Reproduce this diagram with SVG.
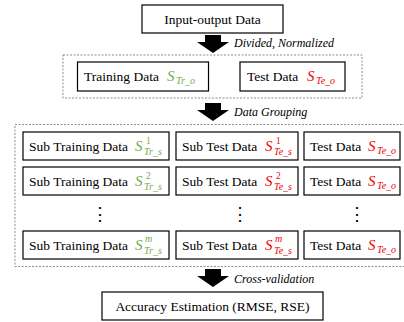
<svg xmlns="http://www.w3.org/2000/svg" width="404" height="322" viewBox="0 0 404 322" font-family="'Liberation Serif', 'DejaVu Serif', serif">
<style>
text{font-family:"Liberation Serif","DejaVu Serif",serif}
.box{fill:#fff;stroke:#000;stroke-width:1.2}
.grp{fill:none;stroke:#808080;stroke-width:0.9;stroke-dasharray:2 1.5}
.t{font-size:13.5px;fill:#000}
.c{text-anchor:middle}
.lbl{font-style:italic;font-size:12px;fill:#000}
.S{font-style:italic;font-size:15px}
.sb{font-style:italic;font-size:10px}
.sp{font-size:9.5px}
.g{fill:#70AD47}
.r{fill:#F00000}
.dots{font-size:18px;fill:#000;text-anchor:middle}
</style>
<defs>
<!-- block arrow pointing down, origin at top centre -->
<path id="blk" d="M-8,0 H8 V7 H16 L0,18 L-16,7 H-8 Z" fill="#000"/>
</defs>

<!-- connectors -->
<g id="connectors">
<use href="#blk" x="213" y="35"/>
<use href="#blk" x="213" y="103"/>
<use href="#blk" x="213" y="269"/>
<text class="lbl" x="234" y="47">Divided, Normalized</text>
<text class="lbl" x="234" y="116">Data Grouping</text>
<text class="lbl" x="234" y="283">Cross-validation</text>
</g>

<g id="input">
<rect class="box" x="142" y="5" width="141" height="28"/>
<text class="t c" x="212.5" y="24">Input-output Data</text>
</g>

<g id="split">
<rect class="grp" x="63" y="55" width="299" height="43"/>
<g id="training">
<rect class="box" x="77.5" y="62" width="131" height="29"/>
<text class="t" x="84" y="81">Training Data</text>
<text class="S g" x="167" y="81">S</text>
<text class="sb g" x="176" y="84">Tr_o</text>
</g>
<g id="test">
<rect class="box" x="240" y="62" width="105" height="29"/>
<text class="t" x="247" y="81">Test Data</text>
<text class="S r" x="307" y="81">S</text>
<text class="sb r" x="316" y="84">Te_o</text>
</g>
</g>

<g id="groups">
<rect class="grp" x="15" y="124.5" width="390" height="142"/>

<!-- row 1 -->
<g id="subtrain1">
<rect class="box" x="23" y="132" width="146" height="28"/>
<text class="t" x="29" y="151">Sub Training Data</text>
<text class="S g" x="135" y="151">S</text>
<text class="sp g" x="146" y="144">1</text>
<text class="sb g" x="144" y="155">Tr_s</text>
</g>
<g id="subtest1">
<rect class="box" x="176" y="132" width="122" height="28"/>
<text class="t" x="182" y="151">Sub Test Data</text>
<text class="S r" x="265" y="151">S</text>
<text class="sp r" x="276" y="144">1</text>
<text class="sb r" x="274" y="155">Te_s</text>
</g>
<g id="test1">
<rect class="box" x="304" y="132" width="96" height="28"/>
<text class="t" x="310" y="151">Test Data</text>
<text class="S r" x="368" y="151">S</text>
<text class="sb r" x="377" y="154">Te_o</text>
</g>

<!-- row 2 -->
<g id="subtrain2">
<rect class="box" x="23" y="167" width="146" height="28"/>
<text class="t" x="29" y="186">Sub Training Data</text>
<text class="S g" x="135" y="186">S</text>
<text class="sp g" x="146" y="179">2</text>
<text class="sb g" x="144" y="190">Tr_s</text>
</g>
<g id="subtest2">
<rect class="box" x="176" y="167" width="122" height="28"/>
<text class="t" x="182" y="186">Sub Test Data</text>
<text class="S r" x="265" y="186">S</text>
<text class="sp r" x="276" y="179">2</text>
<text class="sb r" x="274" y="190">Te_s</text>
</g>
<g id="test2">
<rect class="box" x="304" y="167" width="96" height="28"/>
<text class="t" x="310" y="186">Test Data</text>
<text class="S r" x="368" y="186">S</text>
<text class="sb r" x="377" y="189">Te_o</text>
</g>

<!-- vertical ellipses -->
<text class="dots" x="100" y="220">⋮</text>
<text class="dots" x="240" y="220">⋮</text>
<text class="dots" x="357" y="220">⋮</text>

<!-- row m -->
<g id="subtrainm">
<rect class="box" x="23" y="231" width="146" height="28"/>
<text class="t" x="29" y="250">Sub Training Data</text>
<text class="S g" x="135" y="250">S</text>
<text class="sb g" x="145" y="242">m</text>
<text class="sb g" x="144" y="254">Tr_s</text>
</g>
<g id="subtestm">
<rect class="box" x="176" y="231" width="122" height="28"/>
<text class="t" x="182" y="250">Sub Test Data</text>
<text class="S r" x="265" y="250">S</text>
<text class="sb r" x="275" y="242">m</text>
<text class="sb r" x="274" y="254">Te_s</text>
</g>
<g id="testm">
<rect class="box" x="304" y="231" width="96" height="28"/>
<text class="t" x="310" y="250">Test Data</text>
<text class="S r" x="368" y="250">S</text>
<text class="sb r" x="377" y="253">Te_o</text>
</g>
</g>

<g id="accuracy">
<rect class="box" x="102" y="292" width="221" height="28"/>
<text class="t c" x="212.5" y="311">Accuracy Estimation (RMSE, RSE)</text>
</g>
</svg>
